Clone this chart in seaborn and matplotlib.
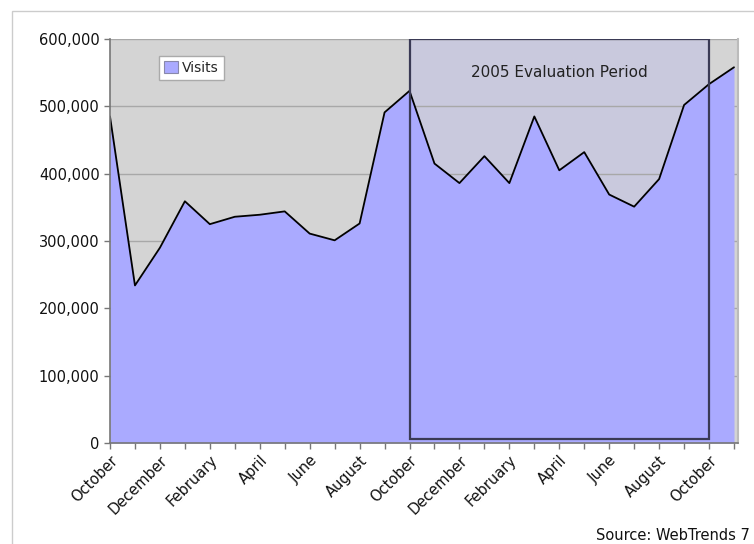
import numpy as np
import pandas as pd
import seaborn as sns
import matplotlib.pyplot as plt
from matplotlib.patches import Rectangle, Patch
from matplotlib.ticker import FuncFormatter

# monthly visits, October 2003 .. November 2005
months = ['October', 'November', 'December', 'January', 'February', 'March',
          'April', 'May', 'June', 'July', 'August', 'September',
          'October', 'November', 'December', 'January', 'February', 'March',
          'April', 'May', 'June', 'July', 'August', 'September',
          'October', 'November']
visits = [485000, 234000, 290000, 359000, 325000, 336000,
          339000, 344000, 311000, 301000, 326000, 491000,
          523000, 415000, 386000, 426000, 386000, 485000,
          405000, 432000, 369000, 351000, 392000, 502000,
          533000, 558000]
eval_start, eval_end = 12, 24
eval_label = '2005 Evaluation Period'
source_text = 'Source: WebTrends 7'

df = pd.DataFrame({'idx': np.arange(len(visits)), 'month': months, 'visits': visits})

sns.set_style('white')
plt.rcParams['font.family'] = ['DejaVu Sans']

fig = plt.figure(figsize=(7.54, 5.44), dpi=100)
ax = fig.add_axes([110 / 754, 101 / 544, 628 / 754, 404 / 544])
ax.set_facecolor('#D4D4D4')

# outer chart frame
fig.patches.append(Rectangle((12 / 754, -0.1), 1.2, (533 / 544) + 0.1,
                             transform=fig.transFigure, fill=False,
                             edgecolor='#CCCCCC', lw=1))

# evaluation period shading (under the area)
ax.add_patch(Rectangle((eval_start, 6000), eval_end - eval_start, 594000,
                       facecolor='#C9C9DD', edgecolor='none', zorder=0.3))

ax.set_axisbelow(True)
ax.yaxis.grid(True, color='#A8A8A8', lw=1)
ax.xaxis.grid(False)

ax.fill_between(df['idx'], df['visits'], 0, color='#AAAAFF', lw=0, zorder=1)
sns.lineplot(data=df, x='idx', y='visits', color='black', lw=1.3, ax=ax, zorder=2)

ax.add_patch(Rectangle((eval_start, 6000), eval_end - eval_start, 594000,
                       fill=False, edgecolor='#3A3A55', lw=1.6, zorder=3))
ax.text((eval_start + eval_end) / 2, 550000, eval_label, ha='center', va='center',
        fontsize=11, color='#222222', zorder=4)

ax.set_xlim(0, 25.16)
ax.set_ylim(0, 600000)
ax.set_yticks(np.arange(0, 600001, 100000))
ax.yaxis.set_major_formatter(FuncFormatter(lambda v, p: f'{int(v):,}'))
ax.set_xticks(df['idx'])
ax.set_xticklabels([m if i % 2 == 0 else '' for i, m in enumerate(months)],
                   rotation=45, ha='right', rotation_mode='anchor')
ax.tick_params(axis='both', direction='out', length=4, width=1, color='#777777',
               labelsize=10.5, labelcolor='#111111', bottom=True, left=True)
ax.tick_params(axis='x', pad=3)
ax.set_xlabel('')
ax.set_ylabel('')

for side in ['left', 'bottom']:
    ax.spines[side].set_color('#777777')
    ax.spines[side].set_linewidth(1.2)
ax.spines['top'].set_visible(False)
ax.spines['right'].set_color('#BBBBBB')
ax.spines['right'].set_linewidth(1.5)

handle = Patch(facecolor='#AAAAFF', edgecolor='#8888AA', lw=0.8)
leg = ax.legend([handle], ['Visits'], loc='upper left', bbox_to_anchor=(0.078, 0.958),
                fancybox=False, framealpha=1, edgecolor='#AAAAAA', fontsize=10,
                handlelength=1.0, handleheight=1.0, handletextpad=0.3,
                borderpad=0.35, borderaxespad=0)
leg.get_frame().set_linewidth(1)

fig.text(750 / 754, 9 / 544, source_text, ha='right', va='center', fontsize=10.5,
         color='#111111')

fig.savefig('out.png', dpi=100)
